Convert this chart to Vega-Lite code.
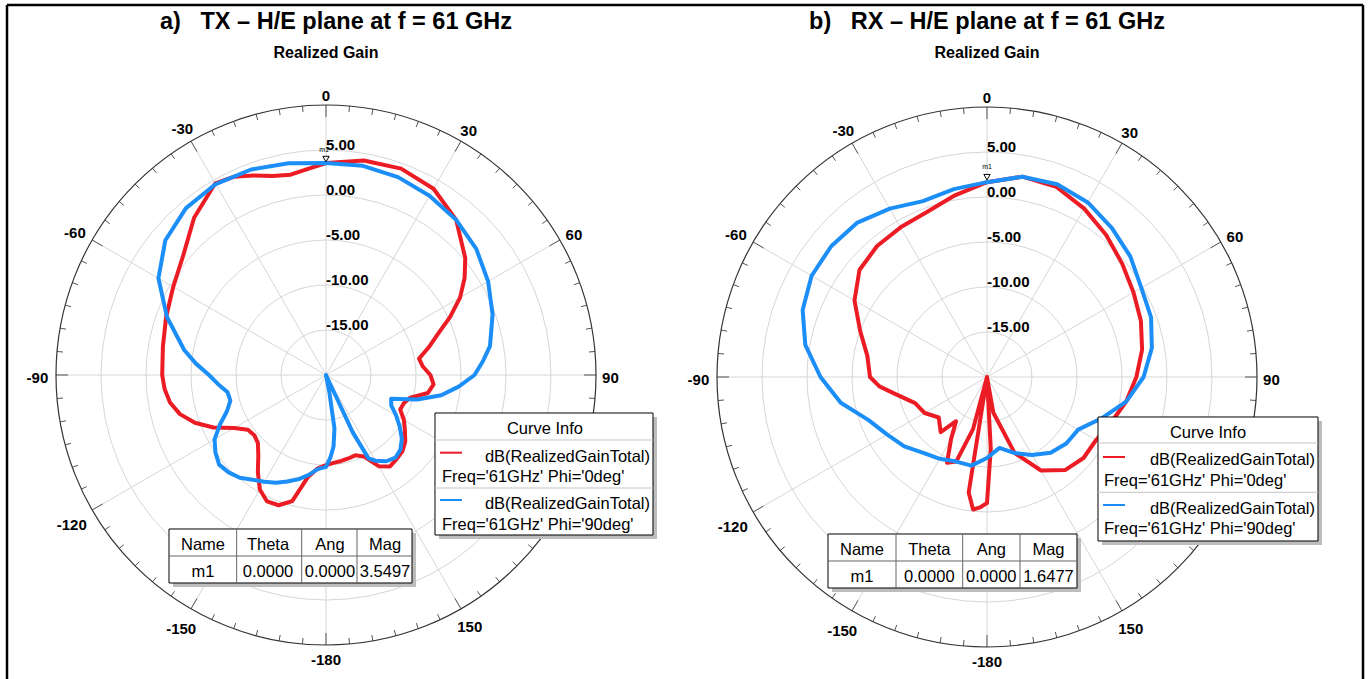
{
  "$schema": "https://vega.github.io/schema/vega-lite/v6.json",
  "padding": 0,
  "bounds": "flush",
  "spacing": 0,
  "background": "white",
  "config": {"view": {"stroke": null}, "font": "Liberation Sans"},
  "datasets": {
    "curves": [
      {"p":"a","s":"0deg","t":-180,"g":-10},{"p":"a","s":"0deg","t":-175,"g":-9.6},{"p":"a","s":"0deg","t":-170,"g":-8.5},{"p":"a","s":"0deg","t":-165,"g":-5.5},{"p":"a","s":"0deg","t":-160,"g":-4.6},{"p":"a","s":"0deg","t":-155,"g":-4.5},{"p":"a","s":"0deg","t":-150,"g":-5.3},{"p":"a","s":"0deg","t":-145,"g":-6.8},{"p":"a","s":"0deg","t":-140,"g":-8.3},{"p":"a","s":"0deg","t":-135,"g":-9.3},{"p":"a","s":"0deg","t":-130,"g":-9.6},{"p":"a","s":"0deg","t":-125,"g":-9.4},{"p":"a","s":"0deg","t":-120,"g":-8.2},{"p":"a","s":"0deg","t":-115,"g":-6.2},{"p":"a","s":"0deg","t":-110,"g":-4.5},{"p":"a","s":"0deg","t":-105,"g":-3.2},{"p":"a","s":"0deg","t":-100,"g":-2.4},{"p":"a","s":"0deg","t":-95,"g":-2.0},{"p":"a","s":"0deg","t":-90,"g":-1.8},{"p":"a","s":"0deg","t":-80,"g":-1.6},{"p":"a","s":"0deg","t":-70,"g":-1.1},{"p":"a","s":"0deg","t":-60,"g":-0.4},{"p":"a","s":"0deg","t":-50,"g":0.7},{"p":"a","s":"0deg","t":-40,"g":2.8},{"p":"a","s":"0deg","t":-30,"g":4.6},{"p":"a","s":"0deg","t":-25,"g":4.3},{"p":"a","s":"0deg","t":-20,"g":3.6},{"p":"a","s":"0deg","t":-15,"g":2.9},{"p":"a","s":"0deg","t":-10,"g":2.6},{"p":"a","s":"0deg","t":-5,"g":3.0},{"p":"a","s":"0deg","t":0,"g":3.55},{"p":"a","s":"0deg","t":10,"g":4.2},{"p":"a","s":"0deg","t":20,"g":4.4},{"p":"a","s":"0deg","t":30,"g":3.9},{"p":"a","s":"0deg","t":40,"g":2.5},{"p":"a","s":"0deg","t":50,"g":0.2},{"p":"a","s":"0deg","t":55,"g":-1.2},{"p":"a","s":"0deg","t":60,"g":-2.8},{"p":"a","s":"0deg","t":65,"g":-4.8},{"p":"a","s":"0deg","t":70,"g":-6.8},{"p":"a","s":"0deg","t":75,"g":-8.2},{"p":"a","s":"0deg","t":80,"g":-9.5},{"p":"a","s":"0deg","t":85,"g":-9.2},{"p":"a","s":"0deg","t":90,"g":-8.4},{"p":"a","s":"0deg","t":95,"g":-8.0},{"p":"a","s":"0deg","t":100,"g":-8.5},{"p":"a","s":"0deg","t":105,"g":-10.3},{"p":"a","s":"0deg","t":110,"g":-10.8},{"p":"a","s":"0deg","t":115,"g":-10.9},{"p":"a","s":"0deg","t":120,"g":-10},{"p":"a","s":"0deg","t":125,"g":-9.3},{"p":"a","s":"0deg","t":130,"g":-8.5},{"p":"a","s":"0deg","t":135,"g":-8.0},{"p":"a","s":"0deg","t":140,"g":-7.8},{"p":"a","s":"0deg","t":145,"g":-7.6},{"p":"a","s":"0deg","t":150,"g":-8.3},{"p":"a","s":"0deg","t":155,"g":-10},{"p":"a","s":"0deg","t":160,"g":-10.5},{"p":"a","s":"0deg","t":165,"g":-10.4},{"p":"a","s":"0deg","t":170,"g":-10.3},{"p":"a","s":"0deg","t":175,"g":-10.2},{"p":"a","s":"0deg","t":180,"g":-10},

      {"p":"a","s":"90deg","t":-180,"g":-9.8},{"p":"a","s":"90deg","t":-175,"g":-9.5},{"p":"a","s":"90deg","t":-170,"g":-8.7},{"p":"a","s":"90deg","t":-165,"g":-8.0},{"p":"a","s":"90deg","t":-160,"g":-7.4},{"p":"a","s":"90deg","t":-155,"g":-6.8},{"p":"a","s":"90deg","t":-150,"g":-6.3},{"p":"a","s":"90deg","t":-145,"g":-5.8},{"p":"a","s":"90deg","t":-140,"g":-5.1},{"p":"a","s":"90deg","t":-135,"g":-4.7},{"p":"a","s":"90deg","t":-130,"g":-4.5},{"p":"a","s":"90deg","t":-125,"g":-5.0},{"p":"a","s":"90deg","t":-120,"g":-5.7},{"p":"a","s":"90deg","t":-115,"g":-7.0},{"p":"a","s":"90deg","t":-110,"g":-8.3},{"p":"a","s":"90deg","t":-105,"g":-9.0},{"p":"a","s":"90deg","t":-100,"g":-8.9},{"p":"a","s":"90deg","t":-95,"g":-8.0},{"p":"a","s":"90deg","t":-90,"g":-7.0},{"p":"a","s":"90deg","t":-85,"g":-5.5},{"p":"a","s":"90deg","t":-80,"g":-4.0},{"p":"a","s":"90deg","t":-70,"g":-1.2},{"p":"a","s":"90deg","t":-60,"g":1.5},{"p":"a","s":"90deg","t":-50,"g":3.3},{"p":"a","s":"90deg","t":-40,"g":4.2},{"p":"a","s":"90deg","t":-30,"g":4.5},{"p":"a","s":"90deg","t":-20,"g":4.3},{"p":"a","s":"90deg","t":-10,"g":3.9},{"p":"a","s":"90deg","t":0,"g":3.55},{"p":"a","s":"90deg","t":10,"g":3.6},{"p":"a","s":"90deg","t":20,"g":3.4},{"p":"a","s":"90deg","t":30,"g":3.0},{"p":"a","s":"90deg","t":40,"g":2.5},{"p":"a","s":"90deg","t":50,"g":1.8},{"p":"a","s":"90deg","t":60,"g":0.8},{"p":"a","s":"90deg","t":70,"g":-0.3},{"p":"a","s":"90deg","t":80,"g":-1.5},{"p":"a","s":"90deg","t":85,"g":-2.5},{"p":"a","s":"90deg","t":90,"g":-3.5},{"p":"a","s":"90deg","t":95,"g":-5.2},{"p":"a","s":"90deg","t":100,"g":-7.0},{"p":"a","s":"90deg","t":105,"g":-9.5},{"p":"a","s":"90deg","t":110,"g":-12.3},{"p":"a","s":"90deg","t":115,"g":-12.0},{"p":"a","s":"90deg","t":120,"g":-11.0},{"p":"a","s":"90deg","t":125,"g":-10.0},{"p":"a","s":"90deg","t":130,"g":-9.0},{"p":"a","s":"90deg","t":135,"g":-8.3},{"p":"a","s":"90deg","t":140,"g":-8.0},{"p":"a","s":"90deg","t":145,"g":-8.3},{"p":"a","s":"90deg","t":150,"g":-9.0},{"p":"a","s":"90deg","t":153,"g":-9.6},{"p":"a","s":"90deg","t":155,"g":-13},{"p":"a","s":"90deg","t":157,"g":-20},{"p":"a","s":"90deg","t":160,"g":-25},{"p":"a","s":"90deg","t":166,"g":-25},{"p":"a","s":"90deg","t":169,"g":-18},{"p":"a","s":"90deg","t":171,"g":-14},{"p":"a","s":"90deg","t":174,"g":-12},{"p":"a","s":"90deg","t":177,"g":-10.8},{"p":"a","s":"90deg","t":180,"g":-9.8},

      {"p":"b","s":"0deg","t":-180,"g":-6},{"p":"b","s":"0deg","t":-177,"g":-5.5},{"p":"b","s":"0deg","t":-174,"g":-5.2},{"p":"b","s":"0deg","t":-171,"g":-7},{"p":"b","s":"0deg","t":-168,"g":-20},{"p":"b","s":"0deg","t":-165,"g":-14},{"p":"b","s":"0deg","t":-160,"g":-10},{"p":"b","s":"0deg","t":-155,"g":-9.5},{"p":"b","s":"0deg","t":-150,"g":-12},{"p":"b","s":"0deg","t":-145,"g":-14},{"p":"b","s":"0deg","t":-140,"g":-12},{"p":"b","s":"0deg","t":-130,"g":-13},{"p":"b","s":"0deg","t":-120,"g":-12},{"p":"b","s":"0deg","t":-110,"g":-11.5},{"p":"b","s":"0deg","t":-100,"g":-9.5},{"p":"b","s":"0deg","t":-95,"g":-8},{"p":"b","s":"0deg","t":-90,"g":-7},{"p":"b","s":"0deg","t":-80,"g":-6.5},{"p":"b","s":"0deg","t":-70,"g":-5},{"p":"b","s":"0deg","t":-60,"g":-3},{"p":"b","s":"0deg","t":-50,"g":-1.5},{"p":"b","s":"0deg","t":-40,"g":-1},{"p":"b","s":"0deg","t":-30,"g":-0.8},{"p":"b","s":"0deg","t":-20,"g":-0.5},{"p":"b","s":"0deg","t":-10,"g":0.5},{"p":"b","s":"0deg","t":0,"g":1.65},{"p":"b","s":"0deg","t":10,"g":2.6},{"p":"b","s":"0deg","t":20,"g":2.5},{"p":"b","s":"0deg","t":30,"g":1.6},{"p":"b","s":"0deg","t":40,"g":0.6},{"p":"b","s":"0deg","t":50,"g":-0.4},{"p":"b","s":"0deg","t":60,"g":-1.2},{"p":"b","s":"0deg","t":70,"g":-1.8},{"p":"b","s":"0deg","t":80,"g":-2.5},{"p":"b","s":"0deg","t":90,"g":-3.4},{"p":"b","s":"0deg","t":100,"g":-4.3},{"p":"b","s":"0deg","t":110,"g":-5.3},{"p":"b","s":"0deg","t":120,"g":-6},{"p":"b","s":"0deg","t":130,"g":-6},{"p":"b","s":"0deg","t":140,"g":-6.5},{"p":"b","s":"0deg","t":150,"g":-8},{"p":"b","s":"0deg","t":160,"g":-11},{"p":"b","s":"0deg","t":170,"g":-16},{"p":"b","s":"0deg","t":175,"g":-20},{"p":"b","s":"0deg","t":177,"g":-12},{"p":"b","s":"0deg","t":180,"g":-6},

      {"p":"b","s":"90deg","t":-180,"g":-11},{"p":"b","s":"90deg","t":-170,"g":-10},{"p":"b","s":"90deg","t":-160,"g":-10},{"p":"b","s":"90deg","t":-150,"g":-9.5},{"p":"b","s":"90deg","t":-140,"g":-9},{"p":"b","s":"90deg","t":-130,"g":-8},{"p":"b","s":"90deg","t":-120,"g":-7.2},{"p":"b","s":"90deg","t":-110,"g":-6},{"p":"b","s":"90deg","t":-100,"g":-3.5},{"p":"b","s":"90deg","t":-90,"g":-1.5},{"p":"b","s":"90deg","t":-80,"g":0.5},{"p":"b","s":"90deg","t":-70,"g":1.8},{"p":"b","s":"90deg","t":-60,"g":2.5},{"p":"b","s":"90deg","t":-50,"g":2.6},{"p":"b","s":"90deg","t":-40,"g":2.4},{"p":"b","s":"90deg","t":-30,"g":1.6},{"p":"b","s":"90deg","t":-20,"g":0.8},{"p":"b","s":"90deg","t":-10,"g":1.2},{"p":"b","s":"90deg","t":0,"g":1.65},{"p":"b","s":"90deg","t":10,"g":2.6},{"p":"b","s":"90deg","t":20,"g":2.8},{"p":"b","s":"90deg","t":30,"g":2.4},{"p":"b","s":"90deg","t":40,"g":1.6},{"p":"b","s":"90deg","t":50,"g":0.8},{"p":"b","s":"90deg","t":60,"g":-0.2},{"p":"b","s":"90deg","t":70,"g":-0.6},{"p":"b","s":"90deg","t":80,"g":-1.4},{"p":"b","s":"90deg","t":90,"g":-2.6},{"p":"b","s":"90deg","t":100,"g":-4.3},{"p":"b","s":"90deg","t":110,"g":-6.5},{"p":"b","s":"90deg","t":120,"g":-8.3},{"p":"b","s":"90deg","t":130,"g":-8.5},{"p":"b","s":"90deg","t":140,"g":-9},{"p":"b","s":"90deg","t":150,"g":-10},{"p":"b","s":"90deg","t":160,"g":-11},{"p":"b","s":"90deg","t":170,"g":-12},{"p":"b","s":"90deg","t":180,"g":-11}
    ],
    "rings": [{"lv":-15,"lab":"-15.00"},{"lv":-10,"lab":"-10.00"},{"lv":-5,"lab":"-5.00"},{"lv":0,"lab":"0.00"},{"lv":5,"lab":"5.00"},{"lv":10,"lab":""}],
    "angles": [{"t":0,"lab":"0"},{"t":30,"lab":"30"},{"t":60,"lab":"60"},{"t":90,"lab":"90"},{"t":120,"lab":"120"},{"t":150,"lab":"150"},{"t":180,"lab":"-180"},{"t":-150,"lab":"-150"},{"t":-120,"lab":"-120"},{"t":-90,"lab":"-90"},{"t":-60,"lab":"-60"},{"t":-30,"lab":"-30"}],
    "ticks": [{"t":-175},{"t":-170},{"t":-165},{"t":-160},{"t":-155},{"t":-150},{"t":-145},{"t":-140},{"t":-135},{"t":-130},{"t":-125},{"t":-120},{"t":-115},{"t":-110},{"t":-105},{"t":-100},{"t":-95},{"t":-90},{"t":-85},{"t":-80},{"t":-75},{"t":-70},{"t":-65},{"t":-60},{"t":-55},{"t":-50},{"t":-45},{"t":-40},{"t":-35},{"t":-30},{"t":-25},{"t":-20},{"t":-15},{"t":-10},{"t":-5},{"t":0},{"t":5},{"t":10},{"t":15},{"t":20},{"t":25},{"t":30},{"t":35},{"t":40},{"t":45},{"t":50},{"t":55},{"t":60},{"t":65},{"t":70},{"t":75},{"t":80},{"t":85},{"t":90},{"t":95},{"t":100},{"t":105},{"t":110},{"t":115},{"t":120},{"t":125},{"t":130},{"t":135},{"t":140},{"t":145},{"t":150},{"t":155},{"t":160},{"t":165},{"t":170},{"t":175},{"t":180}],
    "markers": [{"p":"a","t":0,"g":3.5497,"txt":"m1"},{"p":"b","t":0,"g":1.6477,"txt":"m1"}],
    "boxes": [
      {"p":"a","k":"shadow","px":12.556,"px2":36.778,"py":-4.667,"py2":-18.222},
      {"p":"a","k":"box","px":12.111,"px2":36.333,"py":-4.222,"py2":-17.778},
      {"p":"a","k":"shadow","px":-17.0,"px2":10.0,"py":-17.556,"py2":-23.556},
      {"p":"a","k":"box","px":-17.444,"px2":9.556,"py":-17.111,"py2":-23.111},
      {"p":"b","k":"shadow","px":12.778,"px2":37.222,"py":-4.889,"py2":-18.667},
      {"p":"b","k":"box","px":12.333,"px2":36.778,"py":-4.444,"py2":-18.222},
      {"p":"b","k":"shadow","px":-17.222,"px2":10.444,"py":-17.889,"py2":-23.889},
      {"p":"b","k":"box","px":-17.667,"px2":10.0,"py":-17.444,"py2":-23.444}
    ],
    "lines": [
      {"p":"a","k":"frame","px":-35.444,"py":41.111,"px2":36.667,"py2":41.111},
      {"p":"a","k":"frame","px":-35.444,"py":41.111,"px2":-35.444,"py2":-33.778},
      {"p":"b","k":"frame","px":-36.778,"py":41.333,"px2":41.778,"py2":41.333},
      {"p":"b","k":"frame","px":41.778,"py":41.333,"px2":41.778,"py2":-33.556},
      {"p":"a","k":"sep","px":12.111,"py":-7.222,"px2":36.333,"py2":-7.222},
      {"p":"a","k":"sep","px":12.111,"py":-12.556,"px2":36.333,"py2":-12.556},
      {"p":"a","k":"red","px":12.667,"py":-8.633,"px2":15.111,"py2":-8.633},
      {"p":"a","k":"blue","px":12.667,"py":-13.889,"px2":15.111,"py2":-13.889},
      {"p":"a","k":"grid","px":-17.444,"py":-20.111,"px2":9.556,"py2":-20.111},
      {"p":"a","k":"grid","px":-9.926,"py":-17.111,"px2":-9.926,"py2":-23.111},
      {"p":"a","k":"grid","px":-2.7,"py":-17.111,"px2":-2.7,"py2":-23.111},
      {"p":"a","k":"grid","px":3.444,"py":-17.111,"px2":3.444,"py2":-23.111},
      {"p":"b","k":"sep","px":12.333,"py":-7.333,"px2":36.778,"py2":-7.333},
      {"p":"b","k":"sep","px":12.333,"py":-12.815,"px2":36.778,"py2":-12.815},
      {"p":"b","k":"red","px":12.889,"py":-8.889,"px2":15.333,"py2":-8.889},
      {"p":"b","k":"blue","px":12.889,"py":-14.222,"px2":15.333,"py2":-14.222},
      {"p":"b","k":"grid","px":-17.667,"py":-20.444,"px2":10.0,"py2":-20.444},
      {"p":"b","k":"grid","px":-10.111,"py":-17.444,"px2":-10.111,"py2":-23.444},
      {"p":"b","k":"grid","px":-2.7,"py":-17.444,"px2":-2.7,"py2":-23.444},
      {"p":"b","k":"grid","px":3.667,"py":-17.444,"px2":3.667,"py2":-23.444}
    ],
    "texts": [
      {"p":"a","k":"title","px":1.111,"py":39.222,"txt":"a)\u00a0\u00a0\u00a0TX – H/E plane at f = 61 GHz"},
      {"p":"a","k":"sub","px":0,"py":35.778,"txt":"Realized Gain"},
      {"p":"a","k":"c","px":24.333,"py":-6.0,"txt":"Curve Info"},
      {"p":"a","k":"r","px":36.0,"py":-9.111,"txt":"dB(RealizedGainTotal)"},
      {"p":"a","k":"l","px":12.889,"py":-11.333,"txt":"Freq='61GHz' Phi='0deg'"},
      {"p":"a","k":"r","px":36.0,"py":-14.333,"txt":"dB(RealizedGainTotal)"},
      {"p":"a","k":"l","px":12.889,"py":-16.667,"txt":"Freq='61GHz' Phi='90deg'"},
      {"p":"a","k":"c","px":-13.667,"py":-18.889,"txt":"Name"},
      {"p":"a","k":"c","px":-6.444,"py":-18.889,"txt":"Theta"},
      {"p":"a","k":"c","px":0.444,"py":-18.889,"txt":"Ang"},
      {"p":"a","k":"c","px":6.556,"py":-18.889,"txt":"Mag"},
      {"p":"a","k":"c","px":-13.667,"py":-21.856,"txt":"m1"},
      {"p":"a","k":"c","px":-6.444,"py":-21.856,"txt":"0.0000"},
      {"p":"a","k":"c","px":0.444,"py":-21.856,"txt":"0.0000"},
      {"p":"a","k":"c","px":6.556,"py":-21.856,"txt":"3.5497"},
      {"p":"b","k":"title","px":0,"py":39.444,"txt":"b)\u00a0\u00a0\u00a0RX – H/E plane at f = 61 GHz"},
      {"p":"b","k":"sub","px":0,"py":36.0,"txt":"Realized Gain"},
      {"p":"b","k":"c","px":24.556,"py":-6.222,"txt":"Curve Info"},
      {"p":"b","k":"r","px":36.444,"py":-9.222,"txt":"dB(RealizedGainTotal)"},
      {"p":"b","k":"l","px":13.0,"py":-11.519,"txt":"Freq='61GHz' Phi='0deg'"},
      {"p":"b","k":"r","px":36.444,"py":-14.667,"txt":"dB(RealizedGainTotal)"},
      {"p":"b","k":"l","px":13.0,"py":-16.889,"txt":"Freq='61GHz' Phi='90deg'"},
      {"p":"b","k":"c","px":-13.889,"py":-19.222,"txt":"Name"},
      {"p":"b","k":"c","px":-6.407,"py":-19.222,"txt":"Theta"},
      {"p":"b","k":"c","px":0.478,"py":-19.222,"txt":"Ang"},
      {"p":"b","k":"c","px":6.833,"py":-19.222,"txt":"Mag"},
      {"p":"b","k":"c","px":-13.889,"py":-22.189,"txt":"m1"},
      {"p":"b","k":"c","px":-6.407,"py":-22.189,"txt":"0.0000"},
      {"p":"b","k":"c","px":0.478,"py":-22.189,"txt":"0.0000"},
      {"p":"b","k":"c","px":6.833,"py":-22.189,"txt":"1.6477"}
    ]
  },
  "hconcat": [
    {
      "width": 656, "height": 679,
      "encoding": {
        "x": {"field": "px", "type": "quantitative", "scale": {"domain": [-36.222, 36.667], "nice": false, "zero": false}, "axis": null},
        "y": {"field": "py", "type": "quantitative", "scale": {"domain": [-33.778, 41.667], "nice": false, "zero": false}, "axis": null}
      },
      "layer": [
        {"data": {"name": "rings"}, "transform": [{"filter": "datum.lv < 10"}, {"calculate": "0", "as": "px"}, {"calculate": "0", "as": "py"}, {"calculate": "datum.lv + 20", "as": "rr"}],
         "mark": {"type": "point", "filled": false, "stroke": "#d6d6d6", "strokeWidth": 1, "opacity": 1},
         "encoding": {"size": {"field": "rr", "type": "quantitative", "scale": {"type": "pow", "exponent": 2, "domain": [0, 30], "range": [0, 291600]}, "legend": null}}},
        {"data": {"name": "angles"}, "transform": [{"calculate": "0", "as": "px"}, {"calculate": "0", "as": "py"}, {"calculate": "30*sin(datum.t*PI/180)", "as": "px2"}, {"calculate": "30*cos(datum.t*PI/180)", "as": "py2"}],
         "mark": {"type": "rule", "stroke": "#d6d6d6", "strokeWidth": 1},
         "encoding": {"x2": {"field": "px2"}, "y2": {"field": "py2"}}},
        {"data": {"name": "ticks"}, "transform": [{"calculate": "datum.t % 30 == 0 ? 28.667 : 29.333", "as": "ri"}, {"calculate": "datum.ri*sin(datum.t*PI/180)", "as": "px"}, {"calculate": "datum.ri*cos(datum.t*PI/180)", "as": "py"}, {"calculate": "30*sin(datum.t*PI/180)", "as": "px2"}, {"calculate": "30*cos(datum.t*PI/180)", "as": "py2"}],
         "mark": {"type": "rule", "stroke": "#555555", "strokeWidth": 1},
         "encoding": {"x2": {"field": "px2"}, "y2": {"field": "py2"}}},
        {"data": {"name": "rings"}, "transform": [{"filter": "datum.lv == 10"}, {"calculate": "0", "as": "px"}, {"calculate": "0", "as": "py"}, {"calculate": "datum.lv + 20", "as": "rr"}],
         "mark": {"type": "point", "filled": false, "stroke": "#333333", "strokeWidth": 1.2, "opacity": 1},
         "encoding": {"size": {"field": "rr", "type": "quantitative", "scale": {"type": "pow", "exponent": 2, "domain": [0, 30], "range": [0, 291600]}, "legend": null}}},
        {"data": {"name": "rings"}, "transform": [{"filter": "datum.lv < 10"}, {"calculate": "0", "as": "px"}, {"calculate": "datum.lv + 20", "as": "py"}],
         "mark": {"type": "text", "align": "left", "baseline": "alphabetic", "fontSize": 15, "fontWeight": "bold", "color": "#000000"},
         "encoding": {"text": {"field": "lab"}}},
        {"data": {"name": "angles"}, "transform": [{"filter": "datum.t != 120"}, {"calculate": "sin(datum.t*PI/180)", "as": "sn"}, {"calculate": "cos(datum.t*PI/180)", "as": "cs"}, {"calculate": "30 + (6 + 4.2*length(datum.lab)*abs(datum.sn) + 6*abs(datum.cs))/9", "as": "lr"}, {"calculate": "datum.lr*datum.sn", "as": "px"}, {"calculate": "datum.lr*datum.cs", "as": "py"}],
         "mark": {"type": "text", "align": "center", "baseline": "middle", "fontSize": 15, "fontWeight": "bold", "color": "#000000", "dy": 3},
         "encoding": {"text": {"field": "lab"}}},
        {"data": {"name": "curves"}, "transform": [{"filter": "datum.p == 'a'"}, {"calculate": "max(0, datum.g + 20)", "as": "rr"}, {"calculate": "datum.rr*sin(datum.t*PI/180)", "as": "px"}, {"calculate": "datum.rr*cos(datum.t*PI/180)", "as": "py"}],
         "mark": {"type": "line", "strokeWidth": 4, "strokeJoin": "round", "strokeCap": "round"},
         "encoding": {"color": {"field": "s", "type": "nominal", "scale": {"domain": ["0deg", "90deg"], "range": ["#ec1c24", "#1b8ef8"]}, "legend": null}, "order": {"field": "t", "type": "quantitative"}}},
        {"data": {"name": "markers"}, "transform": [{"filter": "datum.p == 'a'"}, {"calculate": "(datum.g + 20)*sin(datum.t*PI/180)", "as": "px"}, {"calculate": "(datum.g + 20)*cos(datum.t*PI/180)", "as": "py"}],
         "mark": {"type": "point", "shape": "triangle-down", "size": 40, "filled": true, "fill": "#ffffff", "stroke": "#000000", "strokeWidth": 1, "opacity": 1, "yOffset": -4}},
        {"data": {"name": "markers"}, "transform": [{"filter": "datum.p == 'a'"}, {"calculate": "(datum.g + 20)*sin(datum.t*PI/180)", "as": "px"}, {"calculate": "(datum.g + 20)*cos(datum.t*PI/180)", "as": "py"}],
         "mark": {"type": "text", "fontSize": 7, "dy": -13, "dx": -2, "color": "#000000"},
         "encoding": {"text": {"field": "txt"}}},
        {"data": {"name": "boxes"}, "transform": [{"filter": "datum.p == 'a' && datum.k == 'shadow'"}],
         "mark": {"type": "rect", "fill": "#bdbdbd"},
         "encoding": {"x2": {"field": "px2"}, "y2": {"field": "py2"}}},
        {"data": {"name": "boxes"}, "transform": [{"filter": "datum.p == 'a' && datum.k == 'box'"}],
         "mark": {"type": "rect", "fill": "#ffffff", "stroke": "#000000", "strokeWidth": 1},
         "encoding": {"x2": {"field": "px2"}, "y2": {"field": "py2"}}},
        {"data": {"name": "lines"}, "transform": [{"filter": "datum.p == 'a' && datum.k == 'frame'"}],
         "mark": {"type": "rule", "stroke": "#000000", "strokeWidth": 2.5},
         "encoding": {"x2": {"field": "px2"}, "y2": {"field": "py2"}}},
        {"data": {"name": "lines"}, "transform": [{"filter": "datum.p == 'a' && datum.k == 'sep'"}],
         "mark": {"type": "rule", "stroke": "#c4c4c4", "strokeWidth": 1},
         "encoding": {"x2": {"field": "px2"}, "y2": {"field": "py2"}}},
        {"data": {"name": "lines"}, "transform": [{"filter": "datum.p == 'a' && datum.k == 'grid'"}],
         "mark": {"type": "rule", "stroke": "#666666", "strokeWidth": 1},
         "encoding": {"x2": {"field": "px2"}, "y2": {"field": "py2"}}},
        {"data": {"name": "lines"}, "transform": [{"filter": "datum.p == 'a' && datum.k == 'red'"}],
         "mark": {"type": "rule", "stroke": "#ec1c24", "strokeWidth": 2},
         "encoding": {"x2": {"field": "px2"}, "y2": {"field": "py2"}}},
        {"data": {"name": "lines"}, "transform": [{"filter": "datum.p == 'a' && datum.k == 'blue'"}],
         "mark": {"type": "rule", "stroke": "#1b8ef8", "strokeWidth": 2},
         "encoding": {"x2": {"field": "px2"}, "y2": {"field": "py2"}}},
        {"data": {"name": "texts"}, "transform": [{"filter": "datum.p == 'a' && datum.k == 'title'"}],
         "mark": {"type": "text", "align": "center", "baseline": "middle", "fontSize": 23.5, "fontWeight": "bold", "color": "#000000"},
         "encoding": {"text": {"field": "txt"}}},
        {"data": {"name": "texts"}, "transform": [{"filter": "datum.p == 'a' && datum.k == 'sub'"}],
         "mark": {"type": "text", "align": "center", "baseline": "middle", "fontSize": 16, "fontWeight": "bold", "color": "#000000"},
         "encoding": {"text": {"field": "txt"}}},
        {"data": {"name": "texts"}, "transform": [{"filter": "datum.p == 'a' && datum.k == 'c'"}],
         "mark": {"type": "text", "align": "center", "baseline": "middle", "fontSize": 16.5, "color": "#000000"},
         "encoding": {"text": {"field": "txt"}}},
        {"data": {"name": "texts"}, "transform": [{"filter": "datum.p == 'a' && datum.k == 'l'"}],
         "mark": {"type": "text", "align": "left", "baseline": "middle", "fontSize": 16.5, "color": "#000000"},
         "encoding": {"text": {"field": "txt"}}},
        {"data": {"name": "texts"}, "transform": [{"filter": "datum.p == 'a' && datum.k == 'r'"}],
         "mark": {"type": "text", "align": "right", "baseline": "middle", "fontSize": 16.5, "color": "#000000"},
         "encoding": {"text": {"field": "txt"}}}
      ]
    },
    {
      "width": 714, "height": 679,
      "encoding": {
        "x": {"field": "px", "type": "quantitative", "scale": {"domain": [-36.778, 42.556], "nice": false, "zero": false}, "axis": null},
        "y": {"field": "py", "type": "quantitative", "scale": {"domain": [-33.556, 41.889], "nice": false, "zero": false}, "axis": null}
      },
      "layer": [
        {"data": {"name": "rings"}, "transform": [{"filter": "datum.lv < 10"}, {"calculate": "0", "as": "px"}, {"calculate": "0", "as": "py"}, {"calculate": "datum.lv + 20", "as": "rr"}],
         "mark": {"type": "point", "filled": false, "stroke": "#d6d6d6", "strokeWidth": 1, "opacity": 1},
         "encoding": {"size": {"field": "rr", "type": "quantitative", "scale": {"type": "pow", "exponent": 2, "domain": [0, 30], "range": [0, 291600]}, "legend": null}}},
        {"data": {"name": "angles"}, "transform": [{"calculate": "0", "as": "px"}, {"calculate": "0", "as": "py"}, {"calculate": "30*sin(datum.t*PI/180)", "as": "px2"}, {"calculate": "30*cos(datum.t*PI/180)", "as": "py2"}],
         "mark": {"type": "rule", "stroke": "#d6d6d6", "strokeWidth": 1},
         "encoding": {"x2": {"field": "px2"}, "y2": {"field": "py2"}}},
        {"data": {"name": "ticks"}, "transform": [{"calculate": "datum.t % 30 == 0 ? 28.667 : 29.333", "as": "ri"}, {"calculate": "datum.ri*sin(datum.t*PI/180)", "as": "px"}, {"calculate": "datum.ri*cos(datum.t*PI/180)", "as": "py"}, {"calculate": "30*sin(datum.t*PI/180)", "as": "px2"}, {"calculate": "30*cos(datum.t*PI/180)", "as": "py2"}],
         "mark": {"type": "rule", "stroke": "#555555", "strokeWidth": 1},
         "encoding": {"x2": {"field": "px2"}, "y2": {"field": "py2"}}},
        {"data": {"name": "rings"}, "transform": [{"filter": "datum.lv == 10"}, {"calculate": "0", "as": "px"}, {"calculate": "0", "as": "py"}, {"calculate": "datum.lv + 20", "as": "rr"}],
         "mark": {"type": "point", "filled": false, "stroke": "#333333", "strokeWidth": 1.2, "opacity": 1},
         "encoding": {"size": {"field": "rr", "type": "quantitative", "scale": {"type": "pow", "exponent": 2, "domain": [0, 30], "range": [0, 291600]}, "legend": null}}},
        {"data": {"name": "rings"}, "transform": [{"filter": "datum.lv < 10"}, {"calculate": "0", "as": "px"}, {"calculate": "datum.lv + 20", "as": "py"}],
         "mark": {"type": "text", "align": "left", "baseline": "alphabetic", "fontSize": 15, "fontWeight": "bold", "color": "#000000"},
         "encoding": {"text": {"field": "lab"}}},
        {"data": {"name": "angles"}, "transform": [{"filter": "datum.t != 120"}, {"calculate": "sin(datum.t*PI/180)", "as": "sn"}, {"calculate": "cos(datum.t*PI/180)", "as": "cs"}, {"calculate": "30 + (6 + 4.2*length(datum.lab)*abs(datum.sn) + 6*abs(datum.cs))/9", "as": "lr"}, {"calculate": "datum.lr*datum.sn", "as": "px"}, {"calculate": "datum.lr*datum.cs", "as": "py"}],
         "mark": {"type": "text", "align": "center", "baseline": "middle", "fontSize": 15, "fontWeight": "bold", "color": "#000000", "dy": 3},
         "encoding": {"text": {"field": "lab"}}},
        {"data": {"name": "curves"}, "transform": [{"filter": "datum.p == 'b'"}, {"calculate": "max(0, datum.g + 20)", "as": "rr"}, {"calculate": "datum.rr*sin(datum.t*PI/180)", "as": "px"}, {"calculate": "datum.rr*cos(datum.t*PI/180)", "as": "py"}],
         "mark": {"type": "line", "strokeWidth": 4, "strokeJoin": "round", "strokeCap": "round"},
         "encoding": {"color": {"field": "s", "type": "nominal", "scale": {"domain": ["0deg", "90deg"], "range": ["#ec1c24", "#1b8ef8"]}, "legend": null}, "order": {"field": "t", "type": "quantitative"}}},
        {"data": {"name": "markers"}, "transform": [{"filter": "datum.p == 'b'"}, {"calculate": "(datum.g + 20)*sin(datum.t*PI/180)", "as": "px"}, {"calculate": "(datum.g + 20)*cos(datum.t*PI/180)", "as": "py"}],
         "mark": {"type": "point", "shape": "triangle-down", "size": 40, "filled": true, "fill": "#ffffff", "stroke": "#000000", "strokeWidth": 1, "opacity": 1, "yOffset": -5}},
        {"data": {"name": "markers"}, "transform": [{"filter": "datum.p == 'b'"}, {"calculate": "(datum.g + 20)*sin(datum.t*PI/180)", "as": "px"}, {"calculate": "(datum.g + 20)*cos(datum.t*PI/180)", "as": "py"}],
         "mark": {"type": "text", "fontSize": 7, "dy": -15, "dx": 0, "color": "#000000"},
         "encoding": {"text": {"field": "txt"}}},
        {"data": {"name": "boxes"}, "transform": [{"filter": "datum.p == 'b' && datum.k == 'shadow'"}],
         "mark": {"type": "rect", "fill": "#bdbdbd"},
         "encoding": {"x2": {"field": "px2"}, "y2": {"field": "py2"}}},
        {"data": {"name": "boxes"}, "transform": [{"filter": "datum.p == 'b' && datum.k == 'box'"}],
         "mark": {"type": "rect", "fill": "#ffffff", "stroke": "#000000", "strokeWidth": 1},
         "encoding": {"x2": {"field": "px2"}, "y2": {"field": "py2"}}},
        {"data": {"name": "lines"}, "transform": [{"filter": "datum.p == 'b' && datum.k == 'frame'"}],
         "mark": {"type": "rule", "stroke": "#000000", "strokeWidth": 2.5},
         "encoding": {"x2": {"field": "px2"}, "y2": {"field": "py2"}}},
        {"data": {"name": "lines"}, "transform": [{"filter": "datum.p == 'b' && datum.k == 'sep'"}],
         "mark": {"type": "rule", "stroke": "#c4c4c4", "strokeWidth": 1},
         "encoding": {"x2": {"field": "px2"}, "y2": {"field": "py2"}}},
        {"data": {"name": "lines"}, "transform": [{"filter": "datum.p == 'b' && datum.k == 'grid'"}],
         "mark": {"type": "rule", "stroke": "#666666", "strokeWidth": 1},
         "encoding": {"x2": {"field": "px2"}, "y2": {"field": "py2"}}},
        {"data": {"name": "lines"}, "transform": [{"filter": "datum.p == 'b' && datum.k == 'red'"}],
         "mark": {"type": "rule", "stroke": "#ec1c24", "strokeWidth": 2},
         "encoding": {"x2": {"field": "px2"}, "y2": {"field": "py2"}}},
        {"data": {"name": "lines"}, "transform": [{"filter": "datum.p == 'b' && datum.k == 'blue'"}],
         "mark": {"type": "rule", "stroke": "#1b8ef8", "strokeWidth": 2},
         "encoding": {"x2": {"field": "px2"}, "y2": {"field": "py2"}}},
        {"data": {"name": "texts"}, "transform": [{"filter": "datum.p == 'b' && datum.k == 'title'"}],
         "mark": {"type": "text", "align": "center", "baseline": "middle", "fontSize": 23.5, "fontWeight": "bold", "color": "#000000"},
         "encoding": {"text": {"field": "txt"}}},
        {"data": {"name": "texts"}, "transform": [{"filter": "datum.p == 'b' && datum.k == 'sub'"}],
         "mark": {"type": "text", "align": "center", "baseline": "middle", "fontSize": 16, "fontWeight": "bold", "color": "#000000"},
         "encoding": {"text": {"field": "txt"}}},
        {"data": {"name": "texts"}, "transform": [{"filter": "datum.p == 'b' && datum.k == 'c'"}],
         "mark": {"type": "text", "align": "center", "baseline": "middle", "fontSize": 16.5, "color": "#000000"},
         "encoding": {"text": {"field": "txt"}}},
        {"data": {"name": "texts"}, "transform": [{"filter": "datum.p == 'b' && datum.k == 'l'"}],
         "mark": {"type": "text", "align": "left", "baseline": "middle", "fontSize": 16.5, "color": "#000000"},
         "encoding": {"text": {"field": "txt"}}},
        {"data": {"name": "texts"}, "transform": [{"filter": "datum.p == 'b' && datum.k == 'r'"}],
         "mark": {"type": "text", "align": "right", "baseline": "middle", "fontSize": 16.5, "color": "#000000"},
         "encoding": {"text": {"field": "txt"}}}
      ]
    }
  ]
}
